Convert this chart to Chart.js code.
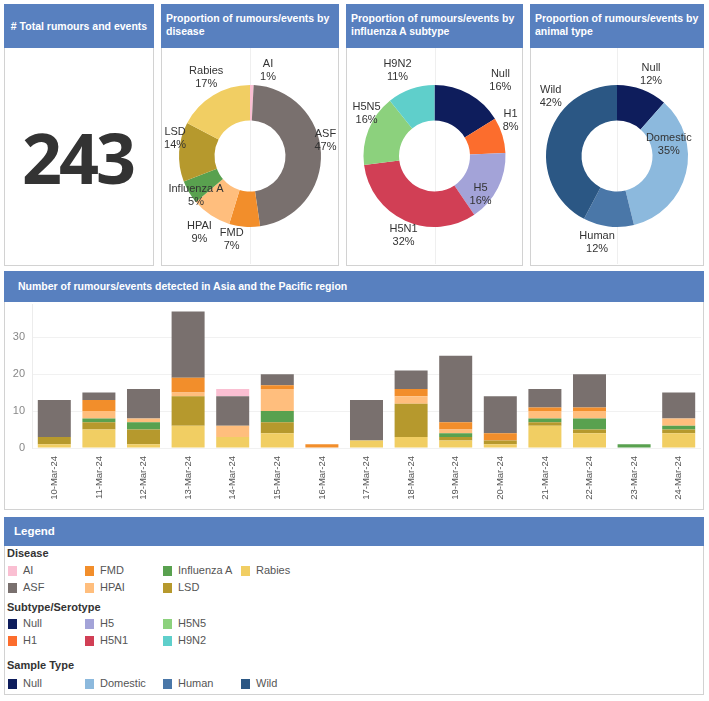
<!DOCTYPE html>
<html><head><meta charset="utf-8">
<script src="https://cdn.jsdelivr.net/npm/chart.js@4.4.1/dist/chart.umd.min.js"></script>
<style>
body{margin:0;background:#fff;width:709px;height:701px;position:relative;overflow:hidden;font-family:"Liberation Sans",Arial,sans-serif;}
.panel{position:absolute;border:1px solid #d2d2d2;box-sizing:border-box;background:#fff;}
.hdr{position:absolute;left:-1px;top:-1px;right:-1px;background:#5880bf;color:#fff;font-weight:bold;font-size:10.5px;line-height:13px;box-sizing:border-box;}
canvas{position:absolute;}
.big{position:absolute;left:0;right:0;top:43px;bottom:0;display:flex;align-items:center;justify-content:center;font-family:"Open Sans",sans-serif;font-weight:700;font-size:70px;letter-spacing:-3px;color:#333;padding-right:3px;}
.lg{position:absolute;font-family:"Liberation Sans Narrow","Liberation Sans",sans-serif;}
.lgt{font-weight:bold;font-size:11px;color:#333;}
.lgi{font-size:11px;color:#555;}
.sw{position:absolute;width:9px;height:10px;}
</style>
</head><body>

<div class="panel" style="left:4px;top:4px;width:150px;height:262px;">
  <div class="hdr" style="height:44px;display:flex;align-items:center;justify-content:center;">
    # Total rumours and events</div>
  <div class="big" id="total"></div>
</div>

<div class="panel" id="p1" style="left:161px;top:4px;width:178px;height:262px;">
  <div class="hdr" style="height:44px;padding:8px 0 0 5px;">Proportion of rumours/events by<br>disease</div>
</div>
<div class="panel" id="p2" style="left:346px;top:4px;width:177px;height:262px;">
  <div class="hdr" style="height:44px;padding:8px 0 0 5px;">Proportion of rumours/events by<br>influenza A subtype</div>
</div>
<div class="panel" id="p3" style="left:530px;top:4px;width:174px;height:262px;">
  <div class="hdr" style="height:44px;padding:8px 0 0 5px;">Proportion of rumours/events by<br>animal type</div>
</div>

<div class="panel" id="pb" style="left:4px;top:271px;width:700px;height:239px;">
  <div class="hdr" style="height:31px;padding:9px 0 0 14px;">Number of rumours/events detected in Asia and the Pacific region</div>
</div>

<div class="panel" id="pl" style="left:4px;top:517px;width:700px;height:178px;">
  <div class="hdr" style="height:29px;padding:8px 0 0 10px;font-family:'Liberation Sans Narrow','Liberation Sans',sans-serif;font-size:11.5px;">Legend</div>
</div>

<script>
// ---------- DATA ----------
const dates = ["10-Mar-24","11-Mar-24","12-Mar-24","13-Mar-24","14-Mar-24","15-Mar-24","16-Mar-24","17-Mar-24","18-Mar-24","19-Mar-24","20-Mar-24","21-Mar-24","22-Mar-24","23-Mar-24","24-Mar-24"];
const diseases = ["AI","ASF","FMD","HPAI","Influenza A","LSD","Rabies"];
const diseaseColors = ["#fabfd2","#79706e","#f28e2b","#ffbe7d","#59a14f","#b6992d","#f1ce63"];
// daily counts per disease
const rabiesDaily = [1,5,1,6,3,4,0,2,3,2,1,6,4,0,4];
const lsdDaily    = [2,2,4,8,0,3,0,0,9,1,1,1,1,0,1];
const infADaily   = [0,1,2,0,0,3,0,0,0,1,0,1,3,1,1];
const hpaiDaily   = [0,2,1,1,3,6,0,0,2,1,0,2,2,0,2];
const fmdDaily    = [0,3,0,4,0,1,1,0,2,2,2,1,1,0,0];
const asfDaily    = [10,2,8,18,8,3,0,11,5,18,10,5,9,0,7];
const aiDaily     = [0,0,0,0,2,0,0,0,0,0,0,0,0,0,0];

const subtypes = ["Null","H1","H5","H5N1","H5N5","H9N2"];
const subtypeCounts = [6,3,6,12,6,4];
const subtypeColors = ["#0e1d5c","#fc6d2d","#a3a3d8","#d13f55","#8cd17d","#5fcfcb"];

const animalTypes = ["Null","Domestic","Human","Wild"];
const animalCounts = [3,9,3,11];
const animalColors = ["#0e1d5c","#8cb9dd","#4a77a8","#2b5784"];

const yTickValues = [0,10,20,30];

// ---------- derived ----------
const dailyByDisease = {"AI":aiDaily,"ASF":asfDaily,"FMD":fmdDaily,"HPAI":hpaiDaily,"Influenza A":infADaily,"LSD":lsdDaily,"Rabies":rabiesDaily};
const sum = a => a.reduce((s,v)=>s+v,0);
const diseaseCounts = diseases.map(d => sum(dailyByDisease[d]));
const total = sum(diseaseCounts);
document.getElementById('total').textContent = total;

// label placement (angle nudge in degrees, distance from centre in px) – layout only
const diseaseLabelPlace = [[10.5,87],[-9,77],[8,85],[0,92],[-5.5,67],[10,77],[2,90]];
const subtypeLabelPlace = [[12,100],[-8,84],[13,60],[-3,85],[10,80],[-4,93]];
const animalLabelPlace  = [[2,88],[-26,53],[6,89],[28,89]];

const donutLabels = {
  id:'donutLabels',
  beforeDraw(chart){
    const ctx = chart.ctx, a = chart.getDatasetMeta(0).data[0];
    if(!a) return;
    ctx.save(); ctx.strokeStyle='#efefef'; ctx.lineWidth=1;
    ctx.beginPath(); ctx.moveTo(Math.round(a.x)+0.5,0); ctx.lineTo(Math.round(a.x)+0.5,chart.height); ctx.stroke();
    ctx.restore();
  },
  afterDatasetsDraw(chart, args, opts){
    const ctx = chart.ctx, meta = chart.getDatasetMeta(0);
    const data = chart.data.datasets[0].data, tot = sum(data);
    ctx.save();
    ctx.font = '11px "Liberation Sans", Arial, sans-serif';
    ctx.fillStyle = '#333'; ctx.textAlign='center'; ctx.textBaseline='middle';
    meta.data.forEach((arc,i)=>{
      const p = opts.place[i];
      const mid = (arc.startAngle+arc.endAngle)/2 + p[0]*Math.PI/180;
      const x = arc.x + p[1]*Math.cos(mid), y = arc.y + p[1]*Math.sin(mid);
      ctx.fillText(chart.data.labels[i], x, y-6.5);
      ctx.fillText(Math.round(data[i]/tot*100)+'%', x, y+6.5);
    });
    ctx.restore();
  }
};

function makeDonut(panelId, labels, values, colors, place){
  const panel = document.getElementById(panelId);
  const W = panel.clientWidth, H = 216, R = 71;
  const cv = document.createElement('canvas');
  cv.width = W; cv.height = H; cv.style.left='0px'; cv.style.top='43px';
  panel.appendChild(cv);
  const ph = (W-2*R)/2, pv = (H-2*R)/2;
  new Chart(cv, {
    type:'doughnut',
    data:{labels, datasets:[{data:values, backgroundColor:colors, borderWidth:0}]},
    options:{
      responsive:false, animation:false, devicePixelRatio:1, cutout:'50%',
      layout:{padding:{left:ph,right:ph,top:pv,bottom:pv}},
      plugins:{legend:{display:false}, tooltip:{enabled:false}, donutLabels:{place}}
    },
    plugins:[donutLabels]
  });
}
makeDonut('p1', diseases, diseaseCounts, diseaseColors, diseaseLabelPlace);
makeDonut('p2', subtypes, subtypeCounts, subtypeColors, subtypeLabelPlace);
makeDonut('p3', animalTypes, animalCounts, animalColors, animalLabelPlace);

// ---------- bar chart ----------
(function(){
  const panel = document.getElementById('pb');
  const cv = document.createElement('canvas');
  cv.width = 698; cv.height = 207; cv.style.left='0px'; cv.style.top='30px';
  panel.appendChild(cv);
  const stackOrder = ["Rabies","LSD","Influenza A","HPAI","FMD","ASF","AI"];
  const datasets = stackOrder.map(d => ({
    label:d, data:dailyByDisease[d], backgroundColor:diseaseColors[diseases.indexOf(d)],
    borderWidth:0, barPercentage:0.74, categoryPercentage:1.0
  }));
  new Chart(cv, {
    type:'bar',
    data:{labels:dates, datasets},
    options:{
      responsive:false, animation:false, devicePixelRatio:1,
      layout:{padding:{top:2,right:2,left:0,bottom:0}},
      plugins:{legend:{display:false}, tooltip:{enabled:false}},
      scales:{
        x:{stacked:true, grid:{display:false}, border:{display:false},
           ticks:{autoSkip:false, minRotation:90, maxRotation:90, padding:0,
                  color:'#555', font:{size:9.5, family:'"Liberation Sans", Arial, sans-serif'}},
           afterFit(s){ s.height = 61; s.paddingLeft = 0; s.paddingRight = 0; }},
        y:{stacked:true, min:0, max:39,
           afterBuildTicks(s){ s.ticks = yTickValues.map(v=>({value:v})); },
           grid:{color:'#f1f1f1', drawTicks:false}, border:{display:true,color:'#ececec'},
           ticks:{padding:7, color:'#888', font:{size:11, family:'"Liberation Sans", Arial, sans-serif'}},
           afterFit(s){ s.width = 27; s.paddingTop = 0; s.paddingBottom = 0; }}
      }
    }
  });
})();

// ---------- legend ----------
(function(){
  const panel = document.getElementById('pl');
  const colX = [3,80,158,236];
  function title(text, top){
    const d = document.createElement('div'); d.className='lg lgt'; d.textContent=text;
    d.style.left='2px'; d.style.top=(top-7)+'px'; panel.appendChild(d);
  }
  function section(labels, colors, rowTops, rows){
    labels.forEach((l,i)=>{
      const col = Math.floor(i/rows), row = i%rows;
      const top = rowTops[row], left = colX[col];
      const sw = document.createElement('div'); sw.className='sw';
      sw.style.left=left+'px'; sw.style.top=(top-5)+'px'; sw.style.background=colors[i];
      panel.appendChild(sw);
      const t = document.createElement('div'); t.className='lg lgi'; t.textContent=l;
      t.style.left=(left+15)+'px'; t.style.top=(top-7)+'px'; panel.appendChild(t);
    });
  }
  title('Disease', 36);
  section(diseases, diseaseColors, [53,70], 2);
  title('Subtype/Serotype', 90);
  section(subtypes, subtypeColors, [106,123], 2);
  title('Sample Type', 148);
  section(animalTypes, animalColors, [166], 1);
})();
</script>
</body></html>
